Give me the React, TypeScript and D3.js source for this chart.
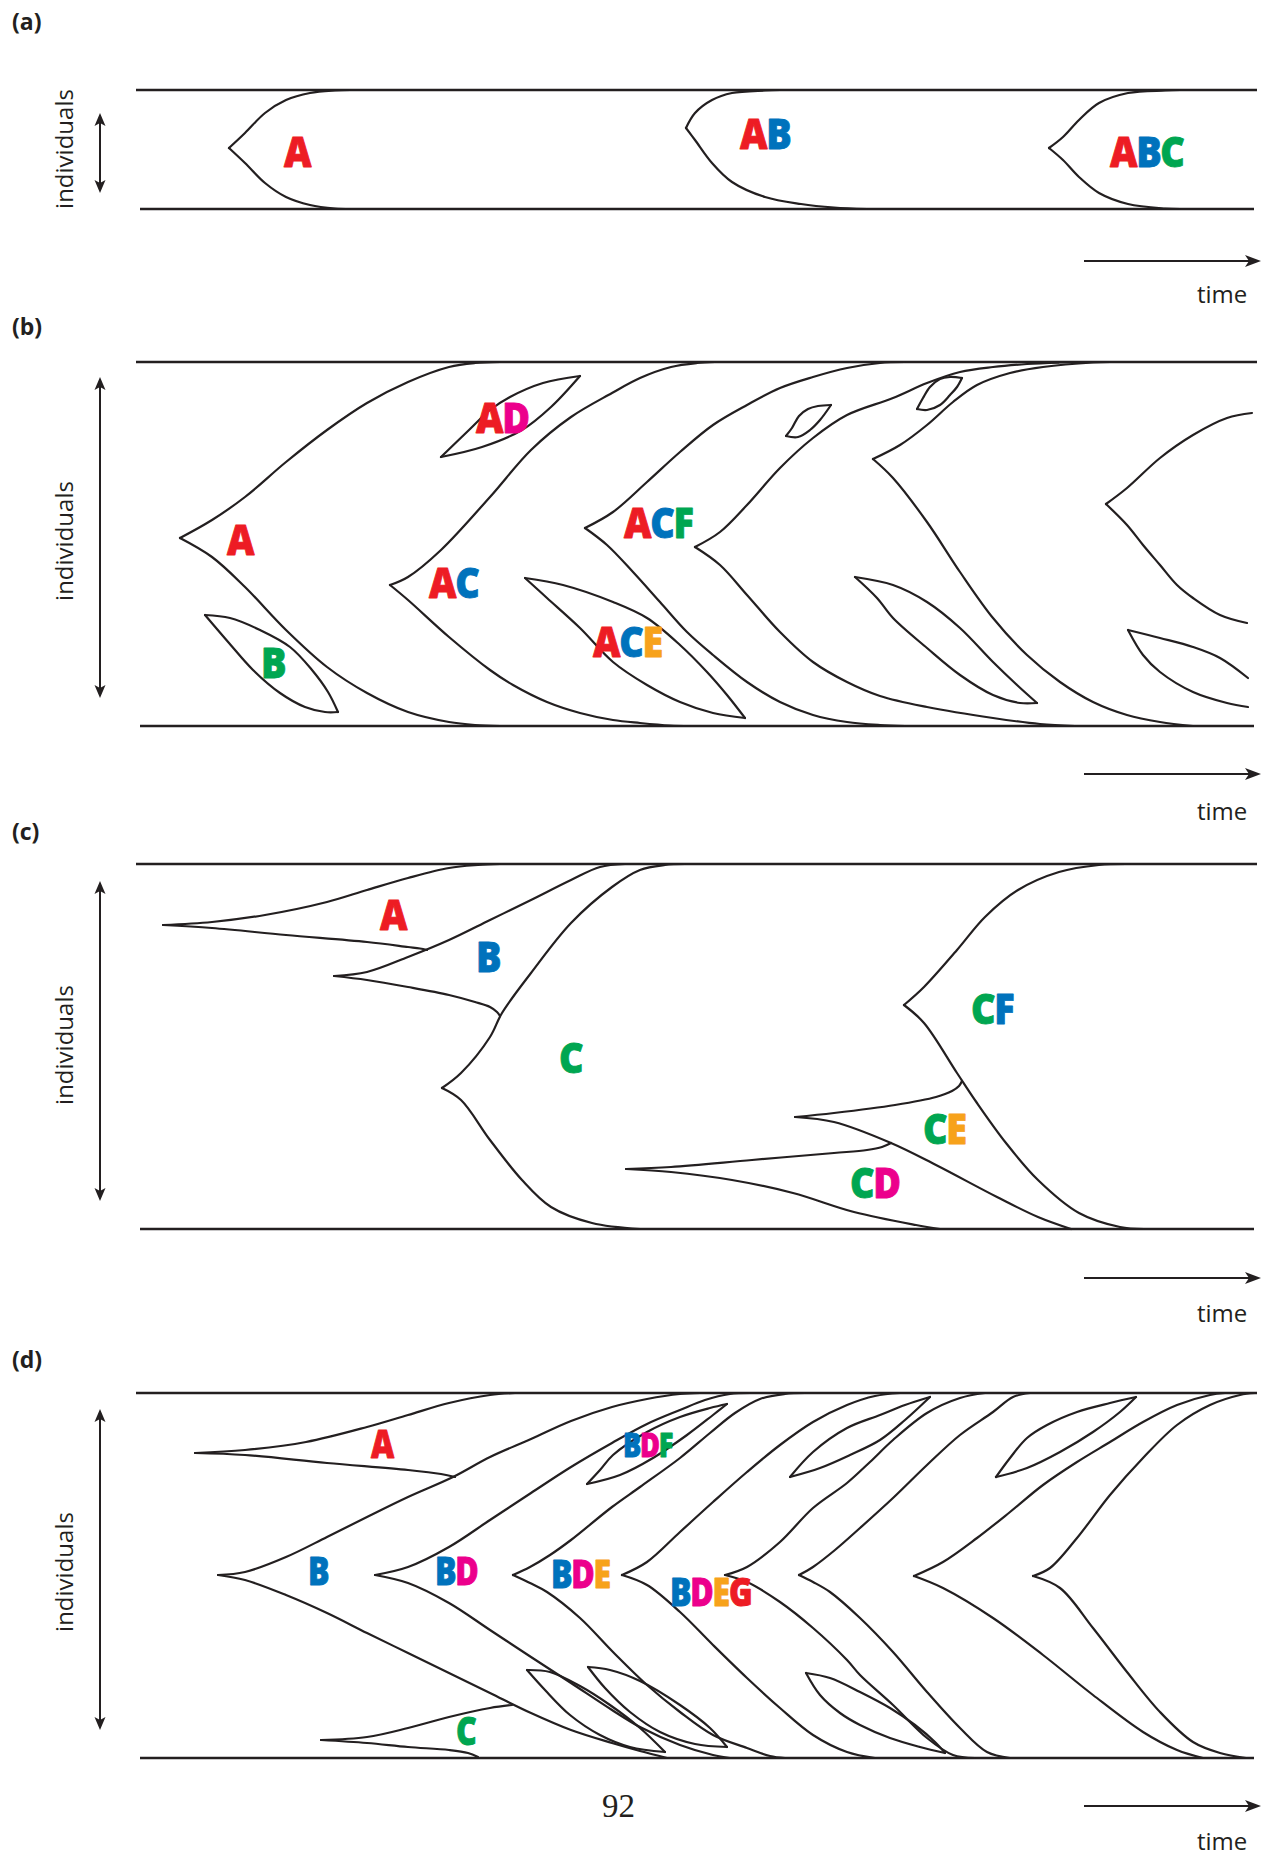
import React from "react";
import * as d3 from "d3";

type Pt = [number, number];
type Label = { text: string; t: number; n: number };

// ---------------- shared time axis (arbitrary units)
const timeDomain: [number, number] = [0, 1120];

// ---------------- panel (a)
const popA = 119;
const curvesA: Pt[][] = [
  [[92,61],[108,76],[128,96],[149,109],[173,116],[198,118.5],[213,119]],
  [[92,61],[108,46],[128,26],[149,12],[173,4],[198,0.5],[213,0]],
  [[549,81],[558,96],[575,109],[595,116],[628,118.5],[643,119]],
  [[549,81],[558,69],[575,46],[595,27],[628,12],[664,5],[697,1.5],[730,0]],
  [[912,61],[926,72],[942,89],[962,106],[991,116],[1028,118.5],[1043,119]],
  [[912,61],[926,49],[942,32],[962,16],[991,5],[1028,0.5],[1043,0]],
];
const labelsA: Label[] = [
  { text: "A", t: 147, n: 42 },
  { text: "AB", t: 603, n: 60 },
  { text: "ABC", t: 973, n: 42 },
];

// ---------------- panel (b)
const popB = 364;
const curvesB: Pt[][] = [
  // A lineage
  [[43,188],[75,206],[108,229],[149,264],[190,296],[230,323],[271,344],[312,359],[338,363],[363,364]],
  [[43,188],[75,169],[108,139],[149,96],[190,59],[230,33],[271,14],[312,4],[338,1],[363,0]],
  // B lens
  [[68,111],[93,108],[123,96],[153,79],[175,56],[191,34],[201,14]],
  [[68,111],[92,83],[116,56],[143,33],[168,19],[188,14],[201,14]],
  // AD lens
  [[304,269],[332,296],[353,316],[373,329],[406,343],[443,350]],
  [[304,269],[345,279],[385,296],[414,319],[443,350]],
  // AC lineage
  [[253,141],[271,149],[304,176],[353,229],[394,276],[434,309],[475,333],[503,348],[534,359],[560,363],[578,364]],
  [[253,141],[271,126],[312,89],[353,56],[376,41],[410,24],[443,13],[476,6],[503,3],[533,0.5],[553,0]],
  // ACE lens
  [[388,148],[426,141],[476,124],[510,108],[543,81],[570,54],[590,31],[608,8]],
  [[388,148],[410,128],[443,98],[476,64],[510,41],[543,24],[576,13],[608,8]],
  // ACF lineage
  [[448,198],[476,214],[510,244],[543,274],[576,301],[610,321],[643,338],[676,349],[710,358],[743,363],[768,364]],
  [[448,198],[470,181],[496,154],[523,124],[550,94],[576,71],[610,44],[643,24],[676,11],[710,4],[743,1],[768,0]],
  // 4th lineage
  [[558,179],[583,194],[610,221],[643,258],[676,288],[710,311],[756,328],[790,343],[823,354],[856,359],[890,362],[923,363.5],[943,364]],
  [[558,179],[583,161],[610,131],[643,94],[676,64],[710,44],[743,30],[790,19],[856,8],[903,2],[938,0]],
  // small lens 1
  [[649,290],[655,298],[662,310],[671,317],[681,320],[694,321]],
  [[649,290],[661,289],[673,296],[683,306],[694,321]],
  // small lens 2
  [[780,317],[786,328],[793,339],[803,347],[813,349],[825,348]],
  [[780,317],[790,316],[803,321],[813,331],[820,339],[825,348]],
  // 5th lineage
  [[736,267],[763,281],[790,301],[816,324],[840,341],[873,353],[906,359],[956,363.5],[973,364]],
  [[736,267],[756,248],[790,204],[823,154],[856,108],[890,71],[923,44],[956,24],[990,11],[1023,4],[1056,0]],
  // big lower lens
  [[718,149],[756,141],[790,124],[823,98],[856,64],[880,41],[900,23]],
  [[718,149],[740,128],[756,108],[790,78],[823,51],[856,31],[883,23],[900,23]],
  // 6th lineage (still spreading)
  [[969,222],[990,238],[1023,268],[1056,291],[1090,308],[1115,313]],
  [[969,222],[990,201],[1006,181],[1023,161],[1040,141],[1056,128],[1083,111],[1110,103]],
  // open lens at right
  [[991,96],[1023,88],[1056,79],[1083,68],[1111,48]],
  [[991,96],[1006,71],[1023,54],[1056,34],[1090,23],[1111,19]],
];
const labelsB: Label[] = [
  { text: "A", t: 90, n: 171 },
  { text: "B", t: 124, n: 48 },
  { text: "AD", t: 339, n: 293 },
  { text: "AC", t: 292, n: 128 },
  { text: "ACE", t: 456, n: 69 },
  { text: "ACF", t: 487, n: 188 },
];

// ---------------- panel (c)
const popC = 365;
const curvesC: Pt[][] = [
  [[26,304],[75,307],[128,314],[190,327],[230,339],[271,351],[312,361],[341,364],[363,365]],
  [[26,304],[75,301],[149,294],[230,287],[271,282],[283,280.5],[290,279]],
  [[197,253],[230,257],[271,272],[312,289],[353,309],[394,329],[434,349],[463,362],[488,365]],
  [[197,253],[230,249],[271,242],[312,234],[338,227],[353,222],[360,217],[363,213]],
  [[305,141],[324,156],[353,192],[365,216],[394,256],[434,306],[475,342],[503,359],[528,364],[548,365]],
  [[305,141],[324,129],[353,89],[385,49],[414,22],[455,6],[503,0]],
  [[767,224],[787,242],[820,279],[848,312],[881,339],[922,357],[962,364],[993,365]],
  [[767,224],[787,206],[820,156],[840,126],[869,86],[901,49],[942,16],[983,2],[1007,0]],
  [[658,112],[697,116],[758,124],[799,132],[815,138],[822,143],[825,148]],
  [[658,112],[697,107],[754,86],[799,64],[860,32],[901,12],[934,0]],
  [[489,60],[534,62],[615,69],[697,76],[730,79],[745,82],[754,86]],
  [[489,60],[534,57],[595,49],[656,36],[717,17],[779,4],[803,0]],
];
const labelsC: Label[] = [
  { text: "A", t: 243, n: 299 },
  { text: "B", t: 339, n: 257 },
  { text: "C", t: 422, n: 156 },
  { text: "CF", t: 834, n: 205 },
  { text: "CE", t: 786, n: 85 },
  { text: "CD", t: 713, n: 31 },
];

// ---------------- panel (d)
const popD = 365;
const curvesD: Pt[][] = [
  // A
  [[58,305],[108,308],[169,316],[230,331],[271,343],[312,355],[353,363],[378,365]],
  [[58,305],[108,303],[190,295],[271,288],[304,284],[318,281]],
  // B
  [[81,183],[108,186],[149,201],[190,221],[230,241],[271,261],[316,281],[353,301],[394,319],[434,337],[475,351],[510,359],[543,364],[563,365]],
  [[81,183],[108,178],[149,163],[190,145],[230,125],[271,105],[312,85],[353,65],[394,45],[434,28],[475,15],[503,7],[530,0]],
  // C
  [[184,18],[230,21],[271,30],[312,41],[353,50],[375,53]],
  [[184,18],[230,15],[271,11],[312,8],[331,5],[341,1]],
  // BD
  [[238,183],[271,191],[312,211],[353,238],[394,265],[434,291],[475,315],[510,334],[543,348],[568,358],[593,364],[613,365]],
  [[238,183],[271,175],[312,155],[353,128],[394,101],[434,75],[475,48],[503,31],[543,13],[576,3],[593,0]],
  // BDE
  [[376,183],[393,191],[413,203],[434,218],[475,251],[503,271],[543,300],[573,325],[598,345],[623,359],[648,364],[668,365]],
  [[376,183],[393,175],[410,166],[443,140],[476,106],[510,73],[543,46],[576,23],[610,10],[633,2],[648,0]],
  // BDEG
  [[485,183],[510,196],[543,226],[576,256],[610,286],[643,313],[676,336],[710,353],[738,362],[763,365]],
  [[485,183],[510,173],[543,146],[576,113],[610,80],[643,50],[676,23],[710,6],[738,0]],
  // next lineages
  [[588,183],[610,191],[643,216],[676,250],[710,275],[733,296],[756,318],[790,345],[823,360],[848,365]],
  [[588,183],[610,176],[643,156],[676,130],[710,98],[723,83],[756,53],[790,20],[816,3],[838,0]],
  [[662,183],[676,191],[698,208],[723,230],[756,260],[790,293],[823,323],[856,346],[876,361],[893,365]],
  [[662,183],[676,176],[693,166],[723,140],[756,106],[790,66],[823,30],[850,6],[873,0]],
  [[777,182],[806,196],[840,220],[873,246],[906,273],[940,296],[973,316],[1006,336],[1040,353],[1073,363],[1088,365]],
  [[777,182],[806,170],[856,140],[906,103],[956,63],[1006,26],[1040,8],[1066,0]],
  [[896,182],[913,190],[940,220],[973,263],[1006,300],[1040,333],[1073,353],[1103,363],[1118,365]],
  [[896,182],[923,170],[956,130],[990,86],[1023,46],[1056,16],[1083,5],[1109,0]],
  // upper lenses
  [[450,274],[463,288],[476,303],[510,326],[543,341],[573,350],[590,354]],
  [[450,274],[483,283],[516,300],[550,323],[576,343],[590,354]],
  [[653,281],[676,306],[710,330],[743,343],[768,353],[793,361]],
  [[653,281],[683,290],[713,303],[743,318],[768,338],[793,361]],
  [[859,281],[873,300],[890,320],[910,333],[940,346],[973,355],[999,361]],
  [[859,281],[890,290],[923,306],[956,326],[983,346],[999,361]],
  // lower lenses
  [[390,88],[413,86],[443,72],[473,53],[503,30],[528,6]],
  [[390,88],[408,68],[433,43],[463,23],[493,11],[528,6]],
  [[451,91],[473,88],[503,77],[543,53],[573,30],[590,11]],
  [[451,91],[468,70],[493,46],[523,26],[558,14],[590,11]],
  [[669,85],[693,80],[723,66],[753,50],[778,33],[798,16],[808,5]],
  [[669,85],[683,63],[703,45],[723,33],[753,20],[783,11],[808,5]],
];
const labelsD: Label[] = [
  { text: "A", t: 234, n: 300 },
  { text: "B", t: 171, n: 173 },
  { text: "C", t: 319, n: 13 },
  { text: "BD", t: 298, n: 173 },
  { text: "BDE", t: 414, n: 170 },
  { text: "BDF", t: 486, n: 301 },
  { text: "BDEG", t: 533, n: 152 },
];

// ---------------- styles
const RED = "#ED1C24", BLUE = "#0072BC", GREEN = "#00A651", MAGENTA = "#EC008C", ORANGE = "#F7A21B";
const INK = "#231F20";

type PanelCfg = {
  tag: string; pop: number; curves: Pt[][]; labels: Label[];
  colors: Record<string, string>;
  top: number; bottom: number; tagY: number; indY: number;
  arrow: [number, number]; timeY: number; timeTextY: number;
  fontSize: number; squeeze: number; small?: string[];
};

const panels: PanelCfg[] = [
  { tag: "(a)", pop: popA, curves: curvesA, labels: labelsA,
    colors: { A: RED, B: BLUE, C: GREEN },
    top: 90, bottom: 209, tagY: 30, indY: 149, arrow: [113, 193], timeY: 261, timeTextY: 303,
    fontSize: 43, squeeze: 0.88 },
  { tag: "(b)", pop: popB, curves: curvesB, labels: labelsB,
    colors: { A: RED, B: GREEN, C: BLUE, D: MAGENTA, E: ORANGE, F: GREEN },
    top: 362, bottom: 726, tagY: 335, indY: 541, arrow: [377, 698], timeY: 774, timeTextY: 820,
    fontSize: 43, squeeze: 0.88 },
  { tag: "(c)", pop: popC, curves: curvesC, labels: labelsC,
    colors: { A: RED, B: BLUE, C: GREEN, D: MAGENTA, E: ORANGE, F: BLUE },
    top: 864, bottom: 1229, tagY: 840, indY: 1045, arrow: [881, 1201], timeY: 1278, timeTextY: 1322,
    fontSize: 43, squeeze: 0.88 },
  { tag: "(d)", pop: popD, curves: curvesD, labels: labelsD,
    colors: { A: RED, B: BLUE, C: GREEN, D: MAGENTA, E: ORANGE, F: GREEN, G: RED },
    top: 1393, bottom: 1758, tagY: 1368, indY: 1572, arrow: [1409, 1730], timeY: 1806, timeTextY: 1850,
    fontSize: 39, squeeze: 0.82, small: ["BDF"] },
];

const X0 = 137, X1 = 1257;

function Panel({ p }: { p: PanelCfg }) {
  const x = d3.scaleLinear().domain(timeDomain).range([X0, X1]);
  const y = d3.scaleLinear().domain([0, p.pop]).range([p.bottom, p.top]);
  const line = d3.line<Pt>().x(d => x(d[0])).y(d => y(d[1])).curve(d3.curveCatmullRom.alpha(0.5));
  const ax = 100;
  const [a1, a2] = p.arrow;
  const tx2 = 1261, tx1 = 1084;
  return (
    <g>
      <text x={12} y={p.tagY} fontFamily="'Open Sans', sans-serif" fontWeight={700} fontSize={23} fill={INK}>{p.tag}</text>
      <text transform={`translate(73,${p.indY}) rotate(-90)`} textAnchor="middle"
        fontFamily="'Open Sans', sans-serif" fontSize={24} fill={INK}>individuals</text>
      {/* double arrow */}
      <line x1={ax} x2={ax} y1={a1 + 8} y2={a2 - 8} stroke={INK} strokeWidth={2} />
      <path d={`M${ax},${a1} L${ax + 5.5},${a1 + 13} L${ax},${a1 + 10} L${ax - 5.5},${a1 + 13} Z`} fill={INK} />
      <path d={`M${ax},${a2} L${ax + 5.5},${a2 - 13} L${ax},${a2 - 10} L${ax - 5.5},${a2 - 13} Z`} fill={INK} />
      {/* population bounds */}
      <line x1={x(-1)} x2={x(timeDomain[1])} y1={y(p.pop)} y2={y(p.pop)} stroke={INK} strokeWidth={2.6} />
      <line x1={x(3)} x2={x(timeDomain[1] - 3)} y1={y(0)} y2={y(0)} stroke={INK} strokeWidth={2.6} />
      {p.curves.map((c, i) => (
        <path key={i} d={line(c) || ""} fill="none" stroke={INK} strokeWidth={2.2} strokeLinejoin="round" strokeLinecap="round" />
      ))}
      {p.labels.map((l, i) => {
        const small = p.small && p.small.includes(l.text);
        const fs = small ? p.fontSize * 0.85 : p.fontSize;
        return (
          <text key={i} transform={`translate(${x(l.t)},${y(l.n)}) scale(${p.squeeze},1)`}
            fontFamily="'Open Sans', sans-serif" fontWeight={800} fontSize={fs} letterSpacing={-1.5}>
            {l.text.split("").map((ch, j) => (
              <tspan key={j} fill={p.colors[ch]} stroke={p.colors[ch]} strokeWidth={0.9} strokeLinejoin="round">{ch}</tspan>
            ))}
          </text>
        );
      })}
      {/* time arrow */}
      <line x1={tx1} x2={tx2 - 10} y1={p.timeY} y2={p.timeY} stroke={INK} strokeWidth={2} />
      <path d={`M${tx2},${p.timeY} L${tx2 - 16},${p.timeY - 6} L${tx2 - 12},${p.timeY} L${tx2 - 16},${p.timeY + 6} Z`} fill={INK} />
      <text x={1197} y={p.timeTextY} fontFamily="'Open Sans', sans-serif" fontSize={24} fill={INK}>time</text>
    </g>
  );
}

export default function App() {
  return (
    <svg width={1264} height={1857} viewBox="0 0 1264 1857"
      style={{ position: "absolute", left: 0, top: 0, background: "#fff" }}>
      <rect x={0} y={0} width={1264} height={1857} fill="#fff" />
      {panels.map((p, i) => <Panel key={i} p={p} />)}
      <text x={602} y={1817} fontFamily="'Liberation Serif', serif" fontSize={33} fill={INK}>92</text>
    </svg>
  );
}
